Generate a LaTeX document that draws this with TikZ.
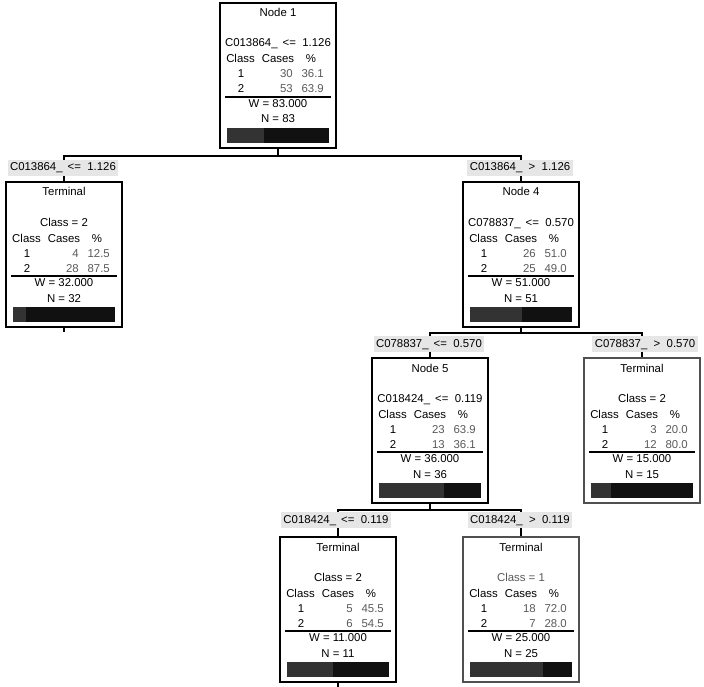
\documentclass[tikz,border=0pt]{standalone}
\usepackage{fontspec}
\setmainfont{Liberation Sans}
\definecolor{labgray}{HTML}{E6E6E6}
\definecolor{numgray}{HTML}{5A5A5A}
\definecolor{boxgray}{HTML}{505050}
\definecolor{barone}{HTML}{333333}
\definecolor{bartwo}{HTML}{111111}
\tikzset{
  txt/.style={font=\fontsize{11.4}{13}\selectfont, inner sep=0pt},
  thickbox/.style={draw=black, line width=2pt, minimum width=116pt, minimum height=145pt, inner sep=0pt},
  thinbox/.style={draw=boxgray, line width=1.2pt, minimum width=116pt, minimum height=145pt, inner sep=0pt},
  lab/.style={fill=labgray, font=\fontsize{11.4}{13}\selectfont, inner xsep=2.5pt, inner ysep=2.5pt, text height=8.5pt, text depth=2.5pt},
  conn/.style={line width=1.5pt, draw=black},
}
% box: name, cx, top, style, title, second line
\newcommand\tbox[6]{%
  \node[#4] (#1) at (#2,#3+72.5) {};
  \node[txt,anchor=base] at (#2,#3+14) {#5};
  \node[txt,anchor=base] at (#2,#3+44) {#6};
  \node[txt,anchor=base] at (#2-37.5,#3+60) {Class};
  \node[txt,anchor=base] at (#2,#3+60) {Cases};
  \node[txt,anchor=base] at (#2+33,#3+60) {\%};
}
% rows: cx, top, cases1, pct1, cases2, pct2, N, fraction of class 1
\newcommand\trows[8]{%
  \node[txt,anchor=base] at (#1-37,#2+75) {1};
  \node[txt,anchor=base east,text=numgray] at (#1+15,#2+75) {#3};
  \node[txt,anchor=base east,text=numgray] at (#1+46,#2+75) {#4};
  \node[txt,anchor=base] at (#1-37,#2+90) {2};
  \node[txt,anchor=base east,text=numgray] at (#1+15,#2+90) {#5};
  \node[txt,anchor=base east,text=numgray] at (#1+46,#2+90) {#6};
  \draw[line width=1.2pt] (#1-53,#2+94) -- (#1+53,#2+94);
  \node[txt,anchor=base] at (#1,#2+104.5) {W = #7.000};
  \node[txt,anchor=base] at (#1,#2+120) {N = #7};
  \fill[barone] (#1-51,#2+125) rectangle ({#1-51+102*#8},#2+140);
  \fill[bartwo] ({#1-51+102*#8},#2+125) rectangle (#1+51,#2+140);
}
\begin{document}
\begin{tikzpicture}[x=1pt,y=-1pt]
\fill[white] (0,0) rectangle (704,687);
\useasboundingbox (0,0) rectangle (704,687);

% boxes
\tbox{n1}{278}{3}{thickbox}{Node 1}{C013864\_ \,<=\ \ 1.126}
\trows{278}{3}{30}{36.1}{53}{63.9}{83}{0.361}

\tbox{t1}{64}{182}{thickbox}{Terminal}{Class = 2}
\trows{64}{182}{4}{12.5}{28}{87.5}{32}{0.125}

\tbox{n4}{521}{182}{thickbox}{Node 4}{C078837\_ \,<=\ \ 0.570}
\trows{521}{182}{26}{51.0}{25}{49.0}{51}{0.51}

\tbox{n5}{430}{358}{thickbox}{Node 5}{C018424\_ \,<=\ \ 0.119}
\trows{430}{358}{23}{63.9}{13}{36.1}{36}{0.639}

\tbox{t2}{642}{358}{thinbox}{Terminal}{Class = 2}
\trows{642}{358}{3}{20.0}{12}{80.0}{15}{0.2}

\tbox{t3}{338}{537}{thickbox}{Terminal}{Class = 2}
\trows{338}{537}{5}{45.5}{6}{54.5}{11}{0.455}

\tbox{t4}{521}{537}{thinbox}{Terminal}{\textcolor{numgray}{Class = 1}}
\trows{521}{537}{18}{72.0}{7}{28.0}{25}{0.72}

% connectors
\coordinate (j1) at (278,156);
\coordinate (j4) at (521,333);
\coordinate (j5) at (430,510);
\draw[conn] (n1.south) -- (j1);
\draw[conn] (t1.north) |- (j1) -| (n4.north);
\draw[conn] (n4.south) -- (j4);
\draw[conn] (n5.north) |- (j4) -| (t2.north);
\draw[conn] (n5.south) -- (j5);
\draw[conn] (t3.north) |- (j5) -| (t4.north);
\draw[conn] (t1.south) -- ++(0,4);
\draw[conn] (t3.south) -- ++(0,4);

% split labels
\node[lab] (l1) at (63,168) {C013864\_ \,<=\ \ 1.126};
\node[lab] (l4) at (520,168) {C013864\_ \ >\ \ 1.126};
\node[lab] (l5) at (429,344) {C078837\_ \,<=\ \ 0.570};
\node[lab] (l2) at (645,344) {C078837\_ \ >\ \ 0.570};
\node[lab] (l3) at (336,520) {C018424\_ \,<=\ \ 0.119};
\node[lab] (l6) at (520,520) {C018424\_ \ >\ \ 0.119};
\end{tikzpicture}
\end{document}
